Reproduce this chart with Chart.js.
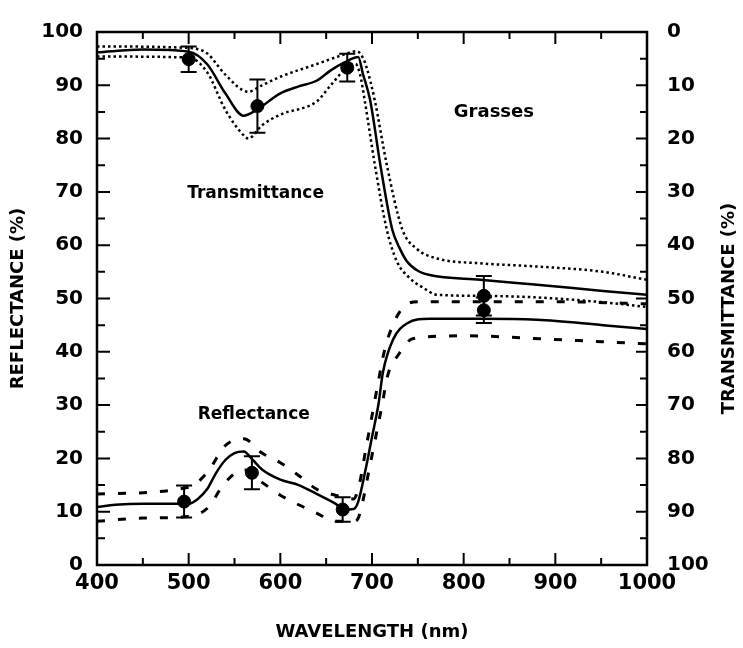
<!DOCTYPE html>
<html><head><meta charset="utf-8">
<script src="https://cdn.jsdelivr.net/npm/chart.js@4.4.0/dist/chart.umd.min.js"></script>
<style>html,body{margin:0;padding:0;background:#fff;}canvas{display:block;}</style>
</head><body>
<canvas id="c" width="743" height="648"></canvas>
<script>
// ---- Data (wavelength nm ; transmittance % on right reversed axis ; reflectance % on left axis)
const transWl   = [400,450,500,520,540,560,575,600,620,640,655,670,685,690,698,709,722,730,738,750,763,818,880,952,1000];
const transMean = [3.8,3.3,3.7,6,11.5,15.7,14.5,11.5,10.2,9.1,7.2,5.7,4.7,7.8,12.8,24.8,37,40.5,43,44.8,45.6,46.5,47.4,48.6,49.3];
const transLowWl = [400,500,520,540,565,580,600,640,670,683,690,694,703,716,733,749,771,818,880,952,1000];
const transLow   = [2.7,3,4,8,11.2,10,8.4,6,4.2,3.6,4.8,6.6,12.8,24.8,37,40.7,42.5,43.4,44,45,46.5];
const transHighWl = [400,500,520,540,560,565,580,600,640,654,673,682,687,692,703,716,727,740,756,771,818,880,952,1000];
const transHigh   = [4.6,4.8,7.5,14.6,19.4,20,17.5,15.5,13,10.2,6.6,6,8,12.8,24.8,37,43,46,48,49.3,49.5,49.8,50.7,51.6];

const reflWl   = [400,420,450,500,510,520,530,540,550,560,570,580,600,620,640,660,670,680,685,693,700,707,712,723,738,763,818,880,952,1000];
const reflMean = [10.9,11.3,11.5,11.5,12.4,14.2,17.3,19.7,21,21.3,19.7,17.9,16,15,13.3,11.5,10.4,10.5,11.9,17.9,24,30.1,36.2,42.3,45.3,46.2,46.2,46,45,44.3];
const reflHighWl = [400,500,520,540,560,580,600,620,640,660,680,686,693,700,707,714,724,735,750,900,1000];
const reflHigh   = [13.3,14.6,17.3,22.4,23.7,21,19.2,16.8,14.2,13.1,12.4,15,21.5,28,34.5,40.5,45.5,48.5,49.4,49.4,49];
const reflLowWl = [400,450,500,520,540,560,580,600,620,640,660,680,685,690,697,704,711,717,729,745,800,900,1000];
const reflLow   = [8.2,8.8,9.1,10.6,15.5,17.9,15.5,13.1,11.3,9.7,8.2,8.2,8.8,12,18,24,30,35.5,39.5,42.5,43,42.3,41.5];

// measured points with error bars
const tPtWl = [500,575,673,822];
const tPt   = [5.1,13.9,6.7,49.5];
const tPtErr= [2.4,5,2.6,3.7];
const rPtWl = [495,569,668,822];
const rPt   = [11.9,17.3,10.4,47.8];
const rPtErr= [3,3.1,2.3,2.4];

const xTicks = [400,500,600,700,800,900,1000];
const notes = [
  {text:'Transmittance', wl:573, refl:69.7, size:17},
  {text:'Grasses', wl:833, refl:84.9, size:18},
  {text:'Reflectance', wl:571, refl:28.3, size:17}
];
const xTitle = 'WAVELENGTH (nm)';
const yTitle = 'REFLECTANCE (%)';
const y2Title = 'TRANSMITTANCE (%)';

const pts = (xs, ys) => xs.map((v,i)=>({x:v, y:ys[i]}));
const FONT = 'DejaVu Sans';

const lineDs = (data, axis, dash, width) => ({
  type:'line', data, yAxisID:axis, borderColor:'#000', borderWidth:width,
  borderDash:dash, pointRadius:0, fill:false, cubicInterpolationMode:'monotone'
});

const extras = {
  id:'extras',
  afterDatasetsDraw(chart){
    const {ctx, chartArea:a, scales} = chart;
    const x = scales.x, y = scales.y, y2 = scales.y2;
    ctx.save();
    ctx.strokeStyle = '#000'; ctx.fillStyle = '#000';
    // error bars
    ctx.lineWidth = 2;
    const bars = (xs, ys, es, sc) => {
      xs.forEach((w,i)=>{
        const px = x.getPixelForValue(w);
        const p1 = sc.getPixelForValue(ys[i]-es[i]);
        const p2 = sc.getPixelForValue(ys[i]+es[i]);
        ctx.beginPath();
        ctx.moveTo(px,p1); ctx.lineTo(px,p2);
        ctx.moveTo(px-8,p1); ctx.lineTo(px+8,p1);
        ctx.moveTo(px-8,p2); ctx.lineTo(px+8,p2);
        ctx.stroke();
      });
    };
    bars(tPtWl,tPt,tPtErr,y2);
    bars(rPtWl,rPt,rPtErr,y);
    // frame
    ctx.lineWidth = 2.5;
    ctx.strokeRect(a.left,a.top,a.right-a.left,a.bottom-a.top);
    // inward ticks
    ctx.lineWidth = 2;
    ctx.beginPath();
    for (let v=5; v<100; v+=5){
      const maj = v%10===0;
      const py = y.getPixelForValue(v);
      ctx.moveTo(a.left,py); ctx.lineTo(a.left+(maj?13:8),py);
      const py2 = y2.getPixelForValue(v);
      ctx.moveTo(a.right,py2); ctx.lineTo(a.right-(maj?11:7),py2);
    }
    for (let w=450; w<1000; w+=50){
      const maj = w%100===0;
      const px = x.getPixelForValue(w);
      ctx.moveTo(px,a.bottom); ctx.lineTo(px,a.bottom-(maj?12:7));
      ctx.moveTo(px,a.top); ctx.lineTo(px,a.top+(maj?12:7));
    }
    ctx.stroke();
    // annotations
    ctx.textAlign='center'; ctx.textBaseline='middle';
    notes.forEach(n=>{
      ctx.font = 'bold '+n.size+'px "'+FONT+'"';
      ctx.fillText(n.text, x.getPixelForValue(n.wl), y.getPixelForValue(n.refl));
    });
    // right axis title (reads bottom-to-top)
    ctx.font = 'bold 18px "'+FONT+'"';
    ctx.translate(729, (a.top+a.bottom)/2+10);
    ctx.rotate(-Math.PI/2);
    ctx.fillText(y2Title,0,0);
    ctx.restore();
  }
};

new Chart(document.getElementById('c'), {
  type:'line',
  data:{ datasets:[
    lineDs(pts(transWl,transMean),'y2',[],2.5),
    lineDs(pts(transLowWl,transLow),'y2',[2.5,3],2.5),
    lineDs(pts(transHighWl,transHigh),'y2',[2.5,3],2.5),
    lineDs(pts(reflWl,reflMean),'y',[],2.5),
    lineDs(pts(reflHighWl,reflHigh),'y',[8,13],3),
    lineDs(pts(reflLowWl,reflLow),'y',[8,13],3),
    {type:'scatter', data:pts(tPtWl,tPt), yAxisID:'y2', pointRadius:6.5, backgroundColor:'#000', borderColor:'#000', showLine:false},
    {type:'scatter', data:pts(rPtWl,rPt), yAxisID:'y', pointRadius:6.5, backgroundColor:'#000', borderColor:'#000', showLine:false}
  ]},
  options:{
    responsive:false, animation:false, devicePixelRatio:1,
    layout:{padding:{top:17,left:0,right:0,bottom:0}},
    plugins:{legend:{display:false}, tooltip:{enabled:false}},
    scales:{
      x:{type:'linear', min:400, max:1000, position:'bottom',
        afterBuildTicks:s=>{s.ticks = xTicks.map(v=>({value:v}));},
        afterFit:s=>{s.height=83;},
        grid:{display:false, drawTicks:false}, border:{display:false},
        ticks:{color:'#000', font:{family:FONT, size:21, weight:'bold'}, padding:6, autoSkip:false, maxRotation:0, callback:v=>String(v)},
        title:{display:true, text:xTitle, color:'#000', font:{family:FONT, size:18, weight:'bold'}, padding:{top:0,bottom:5}}
      },
      y:{type:'linear', min:0, max:100, position:'left',
        afterFit:s=>{s.width=97;},
        grid:{display:false, drawTicks:false}, border:{display:false},
        ticks:{stepSize:10, color:'#000', font:{family:FONT, size:20, weight:'bold'}, padding:14, callback:v=>String(v)},
        title:{display:true, text:yTitle, color:'#000', font:{family:FONT, size:18, weight:'bold'}, padding:{top:8,bottom:0}}
      },
      y2:{type:'linear', min:0, max:100, reverse:true, position:'right',
        afterFit:s=>{s.width=96;},
        grid:{display:false, drawTicks:false}, border:{display:false},
        ticks:{stepSize:10, color:'#000', font:{family:FONT, size:20, weight:'bold'}, padding:20, callback:v=>String(v)}
      }
    }
  },
  plugins:[extras]
});
</script>
</body></html>
